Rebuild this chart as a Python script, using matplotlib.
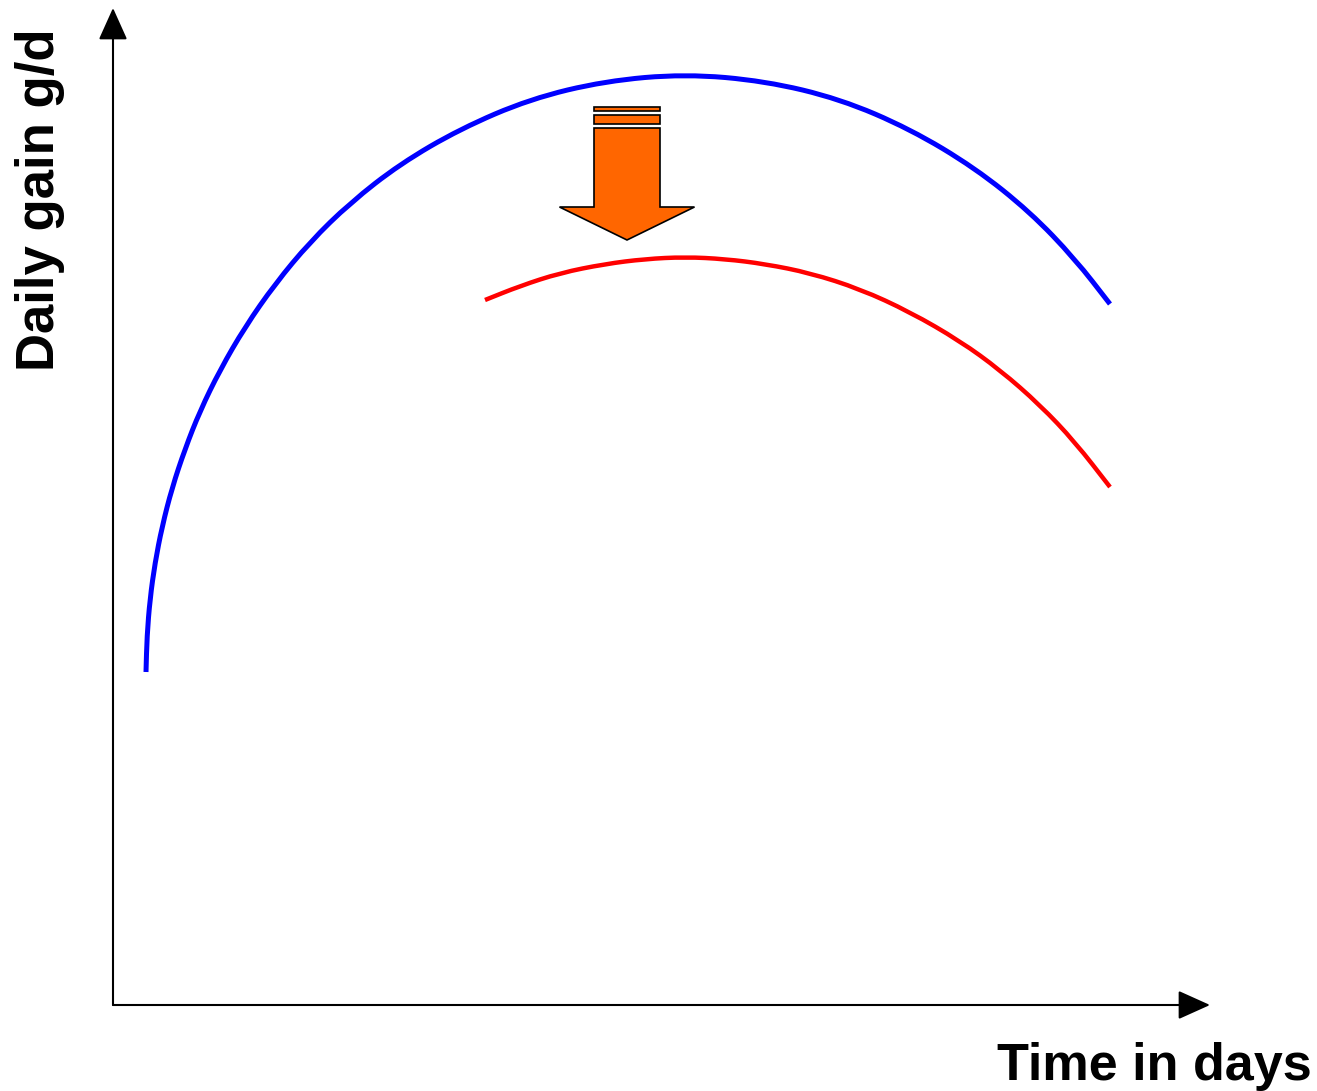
import numpy as np
import matplotlib.pyplot as plt
from matplotlib.patches import Polygon, Rectangle, PathPatch
from matplotlib.path import Path

# Curves (time in days, daily gain, arbitrary units)
blue_days = [3.3, 3.4, 3.7, 4.2, 4.9, 5.9, 7.2, 8.7, 10.7, 13.2, 16.2, 19.7, 23.7,
             28.7, 34.7, 41.7, 49.2, 57.2, 65.2, 72.7, 79.7, 86.2, 91.7, 96.2, 99.7]
blue_gain = [33.3, 36.9, 40.6, 44.2, 47.8, 51.7, 55.6, 59.4, 63.5, 67.8, 72.1, 76.3, 80.2,
             84.1, 87.6, 90.6, 92.4, 93.1, 92.4, 90.6, 87.6, 83.7, 79.3, 74.6, 70.1]

red_days = [37.2, 40.7, 44.7, 49.2, 53.2, 57.2, 61.2, 65.2, 69.7, 74.7, 79.7, 84.7,
            88.7, 92.7, 96.2, 99.7]
red_gain = [70.5, 71.9, 73.2, 74.1, 74.6, 74.8, 74.6, 74.1, 73.2, 71.6, 69.3, 66.4,
            63.5, 60.0, 56.3, 51.8]

x_label = "Time in days"
y_label = "Daily gain g/d"


def smooth_path(xs, ys):
    # quadratic bezier through the midpoints, read points used as control points
    pts = np.column_stack([xs, ys])
    verts = [pts[0], (pts[0] + pts[1]) / 2]
    codes = [Path.MOVETO, Path.LINETO]
    for i in range(1, len(pts) - 1):
        verts += [pts[i], (pts[i] + pts[i + 1]) / 2]
        codes += [Path.CURVE3, Path.CURVE3]
    verts.append(pts[-1])
    codes.append(Path.LINETO)
    return Path(verts, codes)


plt.rcParams['font.family'] = ['Liberation Sans', 'DejaVu Sans']

fig = plt.figure(figsize=(13.17, 10.91), dpi=100)
ax = fig.add_axes([0, 0, 1, 1])
ax.set_xlim(-11.3, 120.4)
ax.set_ylim(-8.6, 100.5)
ax.axis('off')

# Axes with arrow heads
head = '-|>,head_length=2.0,head_width=0.9'
ax.annotate('', xy=(109.7, 0), xytext=(0, 0),
            arrowprops=dict(arrowstyle=head, color='black', lw=1.5, shrinkA=0, shrinkB=0))
ax.annotate('', xy=(0, 99.7), xytext=(0, 0),
            arrowprops=dict(arrowstyle=head, color='black', lw=1.5, shrinkA=0, shrinkB=0))

# Curves
ax.add_patch(PathPatch(smooth_path(blue_days, blue_gain), fill=False,
                       edgecolor='#0000FF', lw=3.6, capstyle='butt'))
ax.add_patch(PathPatch(smooth_path(red_days, red_gain), fill=False,
                       edgecolor='#FF0000', lw=3.2, capstyle='butt'))

# Orange "decrease" arrow
cx = 51.4
shaft_hw, head_hw = 3.3, 6.75
shaft_top, head_base, tip = 87.7, 79.8, 76.5
arrow_pts = [(cx - shaft_hw, shaft_top), (cx + shaft_hw, shaft_top),
             (cx + shaft_hw, head_base), (cx + head_hw, head_base),
             (cx, tip), (cx - head_hw, head_base), (cx - shaft_hw, head_base)]
ax.add_patch(Polygon(arrow_pts, closed=True, facecolor='#FF6600',
                     edgecolor='black', lw=1.2, zorder=3))
ax.add_patch(Rectangle((cx - shaft_hw, 88.1), 2 * shaft_hw, 0.9,
                       facecolor='#FF6600', edgecolor='black', lw=1.2, zorder=3))
ax.add_patch(Rectangle((cx - shaft_hw, 89.4), 2 * shaft_hw, 0.4,
                       facecolor='#FF6600', edgecolor='black', lw=1.2, zorder=3))

# Axis titles
ax.text(0.996, 0.0, x_label, transform=ax.transAxes, ha='right', va='bottom',
        fontsize=37.5, fontweight='bold')
ax.text(0.03, 0.817, y_label, transform=ax.transAxes, ha='center', va='center',
        rotation=90, fontsize=38, fontweight='bold')

fig.savefig('out.png', dpi=100)
